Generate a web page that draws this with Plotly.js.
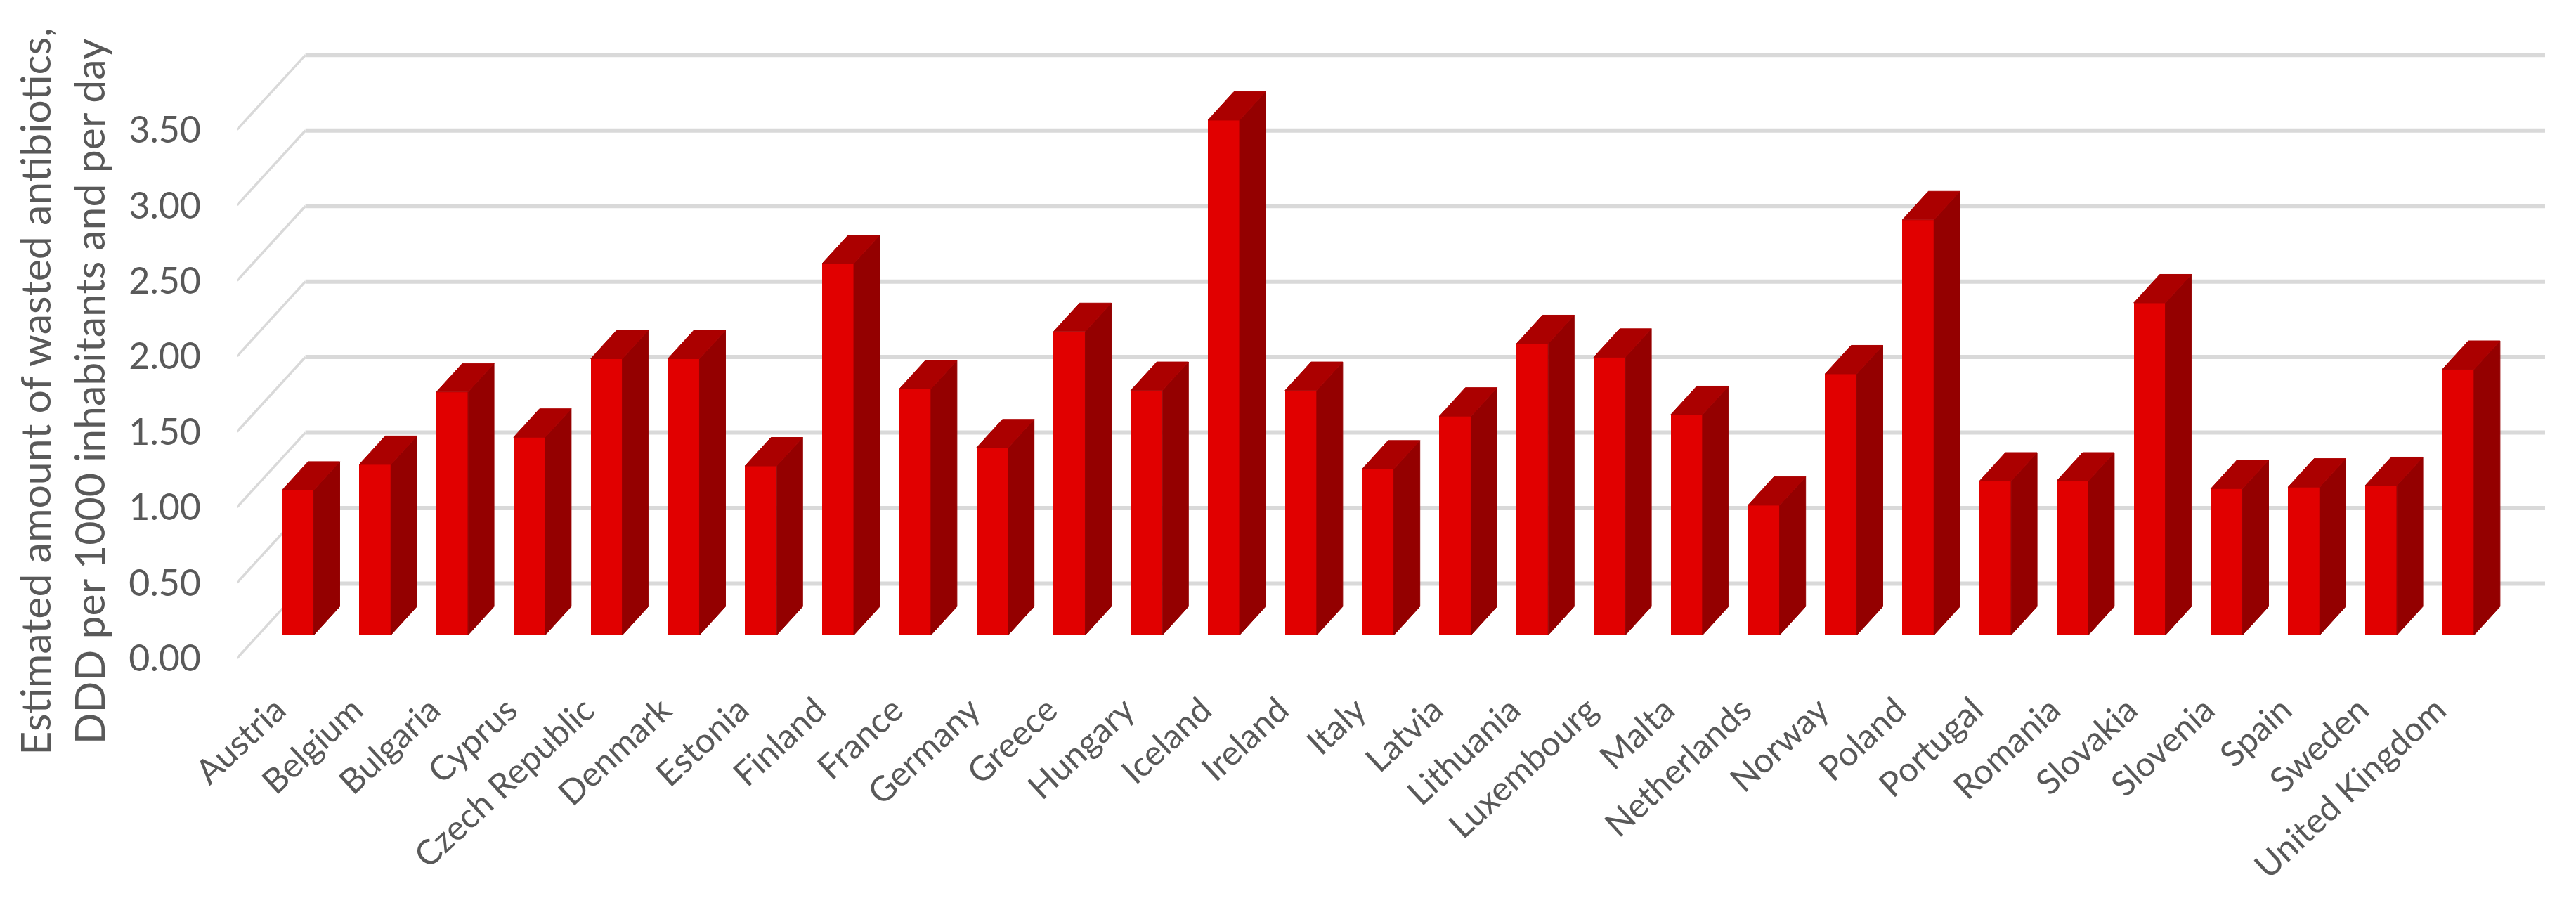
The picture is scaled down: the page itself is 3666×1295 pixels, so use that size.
<!DOCTYPE html>
<html><head><meta charset="utf-8">
<script src="https://cdn.plot.ly/plotly-3.0.1.min.js"></script>
<style>html,body{margin:0;padding:0;background:#fff}</style></head>
<body><div id="chart" style="width:3666px;height:1295px"></div>
<script>
const categories = ["Austria","Belgium","Bulgaria","Cyprus","Czech Republic","Denmark","Estonia","Finland","France","Germany","Greece","Hungary","Iceland","Ireland","Italy","Latvia","Lithuania","Luxembourg","Malta","Netherlands","Norway","Poland","Portugal","Romania","Slovakia","Slovenia","Spain","Sweden","United Kingdom"];
const wasted = [0.96,1.13,1.61,1.31,1.83,1.83,1.12,2.46,1.63,1.24,2.01,1.62,3.41,1.62,1.10,1.45,1.93,1.84,1.46,0.86,1.73,2.75,1.02,1.02,2.20,0.97,0.98,0.99,1.76];
const valueTicks = [0,0.5,1,1.5,2,2.5,3,3.5];

const xs = categories.map((_, i) => i);
const barWidth = 0.41, depthX = 0.337, depthY = 0.1885;
const wallX = 0.889, wallY = 0.496;
const xLeft = -0.792, xRight = 29.126;
const barPlaneShift = 0.155, yTop = 4.1, yBottom = -0.563;

const sideX = [], sideY = [], topX = [], topY = [];
xs.forEach((x, i) => {
  const l = x - barWidth / 2, r = x + barWidth / 2, v = wasted[i];
  sideX.push(r, r + depthX, r + depthX, r, r, null);
  sideY.push(0, depthY, v + depthY, v, 0, null);
  topX.push(l, r, r + depthX, l + depthX, l, null);
  topY.push(v, v, v + depthY, v + depthY, v, null);
});
const gridX = [], gridY = [], diagX = [], diagY = [];
valueTicks.forEach(v => {
  gridX.push(xLeft + wallX, xRight, null);
  gridY.push(v + wallY, v + wallY, null);
  diagX.push(xLeft, xLeft + wallX, null);
  diagY.push(v, v + wallY, null);
});

const traces = [
  {type:'scatter', mode:'lines', x:diagX, y:diagY, line:{color:'#d9d9d9', width:3.5}, hoverinfo:'skip', showlegend:false},
  {type:'scatter', mode:'lines', x:gridX, y:gridY, line:{color:'#d9d9d9', width:6}, hoverinfo:'skip', showlegend:false},
  {type:'bar', x:xs, y:wasted, yaxis:'y2', width:barWidth, marker:{color:'#e10000', line:{width:0}}, showlegend:false},
  {type:'scatter', mode:'lines', x:sideX, y:sideY, yaxis:'y2', fill:'toself', fillcolor:'#940000', line:{width:1, color:'#940000'}, hoverinfo:'skip', showlegend:false},
  {type:'scatter', mode:'lines', x:topX, y:topY, yaxis:'y2', fill:'toself', fillcolor:'#ab0000', line:{width:1, color:'#ab0000'}, hoverinfo:'skip', showlegend:false}
];

const layout = {
  width:3666, height:1295, paper_bgcolor:'#fff', plot_bgcolor:'rgba(0,0,0,0)',
  margin:{l:337, r:44, t:56, b:237}, showlegend:false, bargap:0,
  font:{family:'Lato, sans-serif', color:'#595959'},
  xaxis:{type:'linear', range:[xLeft, xRight], anchor:'free', position:-yBottom / (yTop - yBottom),
         tickmode:'array', tickvals:xs.map(x => x - 0.28), ticktext:categories,
         tickangle:-43, tickfont:{size:49, color:'#595959', family:'Lato, sans-serif'}, ticklabelstandoff:34,
         showgrid:false, zeroline:false, showline:false, ticks:'', automargin:false},
  yaxis:{range:[yBottom, yTop], tickmode:'array', tickvals:valueTicks, ticktext:valueTicks.map(v => v.toFixed(2)),
         tickfont:{size:52, color:'#595959', family:'Lato, sans-serif'}, showgrid:false, zeroline:false, showline:false, ticks:'', ticklabelstandoff:50, automargin:false,
         title:{text:'Estimated amount of wasted antibiotics,<br>DDD per 1000 inhabitants and per day', font:{size:59, color:'#595959', family:'Lato, sans-serif'}, standoff:14}},
  yaxis2:{range:[yBottom - barPlaneShift, yTop - barPlaneShift], overlaying:'y', side:'left', visible:false, showgrid:false, zeroline:false}
};
Plotly.newPlot('chart', traces, layout, {displayModeBar:false, staticPlot:true});
</script></body></html>
